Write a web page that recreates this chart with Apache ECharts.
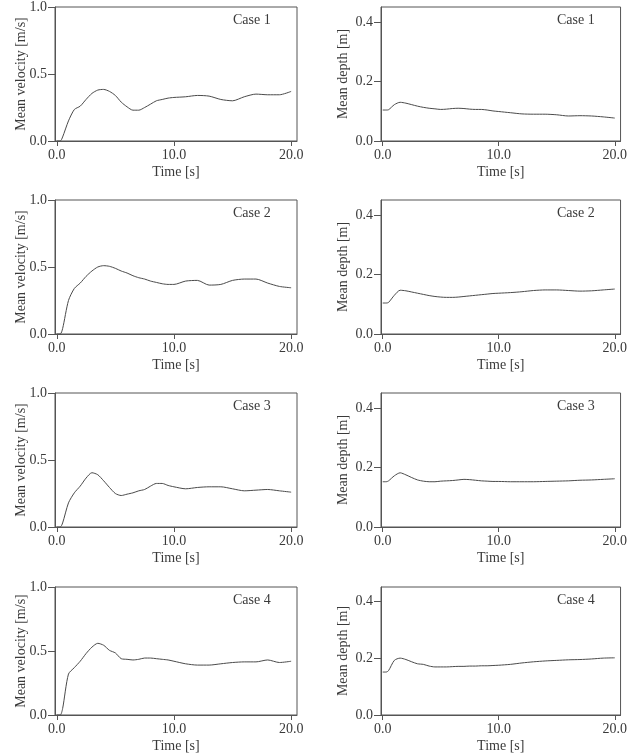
<!DOCTYPE html>
<html>
<head>
<meta charset="utf-8">
<script src="https://cdn.jsdelivr.net/npm/echarts@6/dist/echarts.min.js"></script>
<style>
  html, body { margin: 0; padding: 0; background: #fff; }
  #chart { width: 630px; height: 754px; }
</style>
</head>
<body>
<div id="chart"></div>
<script>
// time samples [s]
const time = [0, 0.3, 0.5, 1, 1.5, 2, 2.5, 3, 3.5, 4, 4.5, 5, 5.5, 6, 6.5, 7, 7.5, 8, 8.5, 9, 9.5, 10, 11, 12, 13, 14, 15, 16, 17, 18, 19, 20]

// mean velocity [m/s]
const velocity1 = [0, 0, 0.03, 0.15, 0.235, 0.26, 0.31, 0.355, 0.38, 0.385, 0.37, 0.34, 0.29, 0.255, 0.23, 0.23, 0.25, 0.275, 0.30, 0.31, 0.32, 0.325, 0.33, 0.34, 0.335, 0.31, 0.30, 0.33, 0.35, 0.345, 0.345, 0.37]
const velocity2 = [0, 0, 0.04, 0.25, 0.34, 0.38, 0.43, 0.47, 0.50, 0.51, 0.505, 0.49, 0.47, 0.455, 0.435, 0.42, 0.41, 0.395, 0.385, 0.375, 0.37, 0.37, 0.395, 0.40, 0.365, 0.37, 0.40, 0.41, 0.41, 0.38, 0.355, 0.345]
const velocity3 = [0, 0, 0.03, 0.18, 0.255, 0.305, 0.365, 0.405, 0.39, 0.345, 0.295, 0.25, 0.235, 0.245, 0.255, 0.27, 0.28, 0.305, 0.325, 0.325, 0.31, 0.30, 0.285, 0.295, 0.30, 0.30, 0.285, 0.27, 0.275, 0.28, 0.27, 0.26]
const velocity4 = [0, 0, 0.05, 0.32, 0.37, 0.42, 0.48, 0.53, 0.56, 0.545, 0.505, 0.485, 0.44, 0.435, 0.43, 0.435, 0.445, 0.445, 0.44, 0.435, 0.43, 0.42, 0.40, 0.39, 0.39, 0.40, 0.41, 0.415, 0.415, 0.43, 0.41, 0.42]

// mean depth [m]
const depth1 = [0.104, 0.104, 0.105, 0.122, 0.13, 0.127, 0.122, 0.117, 0.113, 0.110, 0.108, 0.106, 0.107, 0.109, 0.110, 0.109, 0.107, 0.106, 0.106, 0.104, 0.101, 0.099, 0.095, 0.091, 0.090, 0.090, 0.088, 0.084, 0.085, 0.084, 0.081, 0.077]
const depth2 = [0.104, 0.104, 0.106, 0.13, 0.147, 0.145, 0.141, 0.137, 0.133, 0.129, 0.126, 0.124, 0.123, 0.123, 0.124, 0.126, 0.128, 0.130, 0.132, 0.134, 0.136, 0.137, 0.139, 0.142, 0.146, 0.148, 0.148, 0.146, 0.144, 0.145, 0.148, 0.151]
const depth3 = [0.152, 0.152, 0.155, 0.172, 0.182, 0.175, 0.166, 0.158, 0.154, 0.152, 0.152, 0.154, 0.155, 0.156, 0.158, 0.160, 0.159, 0.157, 0.155, 0.154, 0.153, 0.153, 0.152, 0.152, 0.152, 0.153, 0.154, 0.155, 0.157, 0.158, 0.160, 0.162]
const depth4 = [0.151, 0.151, 0.156, 0.192, 0.200, 0.195, 0.187, 0.180, 0.178, 0.172, 0.169, 0.169, 0.169, 0.170, 0.171, 0.171, 0.172, 0.172, 0.173, 0.173, 0.174, 0.175, 0.178, 0.183, 0.187, 0.190, 0.192, 0.194, 0.195, 0.197, 0.200, 0.201]

const caseNames = ['Case 1', 'Case 2', 'Case 3', 'Case 4']
const xTicks = [0, 10, 20]
const velocityTicks = [0, 0.5, 1.0]
const depthTicks = [0, 0.2, 0.4]

const velocities = [velocity1, velocity2, velocity3, velocity4]
const depths = [depth1, depth2, depth3, depth4]

const FONT = 'Liberation Serif'
const TEXT = '#3a3a3a'
const LINE = '#4a4a4a'
const rowTops = [7, 200, 393, 587]
const cols = [55, 381]

function pairs (ys) {
  return time.map((t, i) => [t, ys[i]])
}

let grids = []
let xAxes = []
let yAxes = []
let series = []
let titles = []

rowTops.forEach((top, r) => {
  cols.forEach((left, c) => {
    let idx = grids.length
    grids.push({
      left: left, top: top, width: 242, height: 134,
      show: true, borderColor: '#555', borderWidth: 1, backgroundColor: 'transparent'
    })
    xAxes.push({
      type: 'value', gridIndex: idx, min: -0.15, max: 20.5,
      name: 'Time [s]', nameLocation: 'middle', nameGap: 24, nameMoveOverlap: false,
      nameTextStyle: { fontFamily: FONT, fontSize: 14, color: TEXT },
      axisLine: { onZero: false, lineStyle: { color: '#555' } },
      axisTick: { length: 5, customValues: xTicks, lineStyle: { color: '#555' } },
      axisLabel: { customValues: xTicks, margin: 7, fontFamily: FONT, fontSize: 14, color: TEXT, formatter: v => v.toFixed(1) },
      splitLine: { show: false }
    })
    let isVel = c === 0
    yAxes.push({
      type: 'value', gridIndex: idx, min: 0, max: isVel ? 1.0 : 0.45,
      name: isVel ? 'Mean velocity [m/s]' : 'Mean depth [m]',
      nameLocation: 'middle', nameGap: isVel ? 27 : 31, nameMoveOverlap: false,
      nameTextStyle: { fontFamily: FONT, fontSize: 14, color: TEXT },
      axisLine: { show: true, onZero: false, lineStyle: { color: '#555' } },
      axisTick: { show: true, length: 7, customValues: isVel ? velocityTicks : depthTicks, lineStyle: { color: '#555' } },
      axisLabel: { customValues: isVel ? velocityTicks : depthTicks, margin: 8, fontFamily: FONT, fontSize: 14, color: TEXT, formatter: v => v.toFixed(1) },
      splitLine: { show: false }
    })
    series.push({
      type: 'line', xAxisIndex: idx, yAxisIndex: idx,
      data: pairs(isVel ? velocities[r] : depths[r]),
      smooth: 0.25, showSymbol: false, silent: true,
      lineStyle: { color: LINE, width: 1 }
    })
    titles.push({
      text: caseNames[r], left: isVel ? 233 : 557, top: top + 6, padding: 0,
      textStyle: { fontFamily: FONT, fontSize: 14, fontWeight: 'normal', color: TEXT }
    })
  })
})

let myChart = echarts.init(document.getElementById('chart'))
myChart.setOption({
  animation: false,
  title: titles,
  grid: grids,
  xAxis: xAxes,
  yAxis: yAxes,
  series: series
})
</script>
</body>
</html>
